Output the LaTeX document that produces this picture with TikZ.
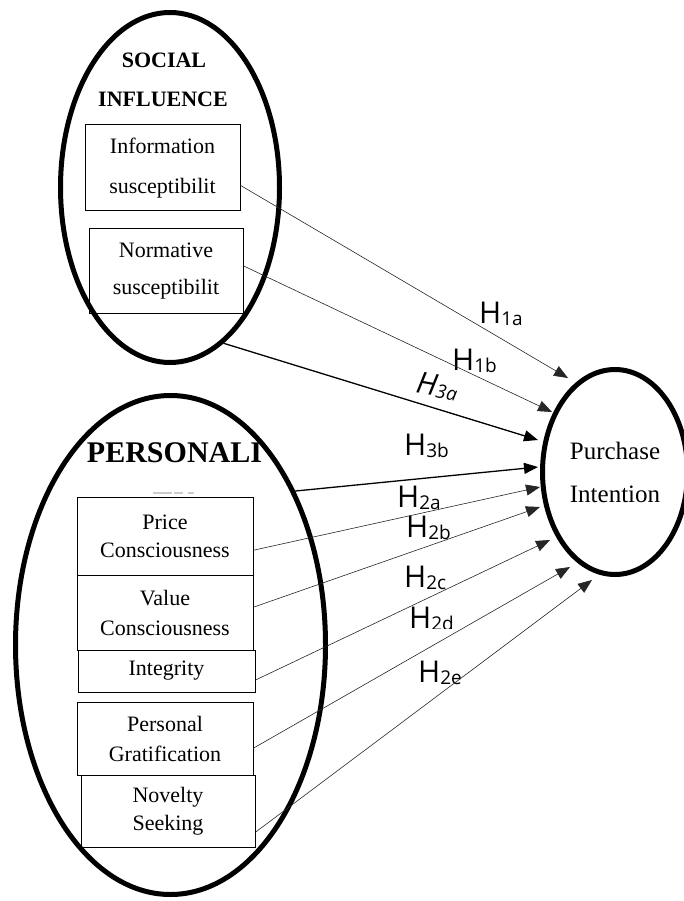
\documentclass[tikz,border=0pt]{standalone}
\usepackage{fontspec}
\setmainfont{Liberation Serif}
\newfontfamily\labfont{Open Sans}
\usetikzlibrary{shapes.geometric,arrows.meta,calc}
\newcommand{\hlab}[1]{H{\fontsize{19}{19}\selectfont\raisebox{-2pt}{#1}}}
\begin{document}
\begin{tikzpicture}[x=1pt,y=-1pt,
  oval/.style={ellipse,draw,line width=5pt,inner sep=0pt},
  fbox/.style={draw,line width=1pt,rectangle,inner sep=0pt,align=center},
  thinc/.style={line width=0.6pt,draw=black!85,-{Triangle[length=14pt,width=11pt]}},
  thickc/.style={line width=1.3pt,-{Triangle[length=14pt,width=11pt]}},
  hl/.style={font=\labfont\fontsize{30}{30}\selectfont,inner sep=0pt,anchor=base west},
  head/.style={font=\bfseries\fontsize{22}{22}\selectfont,inner sep=0pt,anchor=base},
]
\useasboundingbox (0,0) rectangle (683,901);
% ovals
\node[oval,minimum width=219pt,minimum height=350pt] (social) at (170,187.5) {};
\node[oval,minimum width=310pt,minimum height=499pt] (pers) at (170.5,645) {};
\node[oval,minimum width=145pt,minimum height=205pt,align=center,
      font=\fontsize{25}{43}\selectfont] (pi) at (615,472) {Purchase\\Intention};
% headings
\node[head] (socA) at (164,68) {SOCIAL};
\node[head] (socB) at (163,107) {INFLUENCE};
\node[head,font=\bfseries\fontsize{30}{30}\selectfont] (persT) at (174.5,462) {PERSONALI};
\draw[black!20,line width=1.3pt] (153,493) -- (172,493) (174,493) -- (183,493) (188,493) -- (194,493);
% boxes
\node[fbox,minimum width=155pt,minimum height=86pt,font=\fontsize{22}{40}\selectfont] (info) at (162.5,168) {Information\\susceptibilit};
\node[fbox,minimum width=154pt,minimum height=84pt,font=\fontsize{22}{37}\selectfont] (norm) at (166,271) {Normative\\susceptibilit};
\node[fbox,minimum width=176pt,minimum height=78pt,font=\fontsize{22}{28}\selectfont] (price) at (165,536) {Price\\Consciousness};
\node[fbox,minimum width=176pt,minimum height=75pt,font=\fontsize{22}{30}\selectfont] (value) at (165,612.5) {Value\\Consciousness};
\node[fbox,minimum width=177pt,minimum height=42pt,font=\fontsize{22}{22}\selectfont] (integ) at (166.5,671) {Integrity};
\node[fbox,minimum width=176pt,minimum height=73pt,font=\fontsize{22}{30}\selectfont] (grat) at (165,738.5) {Personal\\Gratification};
\node[fbox,minimum width=174pt,minimum height=72pt,font=\fontsize{22}{28}\selectfont] (nov) at (168,811) {Novelty\\Seeking};
% clipped descenders
\fill[white] (135,681) rectangle (205,690.5);
\fill[white] (125,836.5) rectangle (215,846);
% labels
\node[hl] (l1a) at (479,323) {\hlab{1a}};
\node[hl] (l1b) at (452,370) {\hlab{1b}};
\node[hl,font=\labfont\itshape\fontsize{30}{30}\selectfont,rotate=-10] (l3a) at (415,392) {\hlab{3a}};
\node[hl] (l3b) at (404,455) {\hlab{3b}};
\node[hl] (l2a) at (397,507) {\hlab{2a}};
\node[hl] (l2b) at (406,537) {\hlab{2b}};
\node[hl] (l2c) at (404,587) {\hlab{2c}};
\node[hl] (l2d) at (409,628) {\hlab{2d}};
\node[hl] (l2e) at (418,682) {\hlab{2e}};
\fill[white] (428,628.8) rectangle (462,637);
% arrow tips
\coordinate (t1a) at (568,378);
\coordinate (t1b) at (552,412);
\coordinate (t3a) at (538,440);
\coordinate (t3b) at (538,467);
\coordinate (t2a) at (540,487);
\coordinate (t2b) at (540,507);
\coordinate (t2c) at (550,540);
\coordinate (t2d) at (570,567);
\coordinate (t2e) at (592,580);
% connectors
\draw[thinc] ($(info.north east)!0.70!(info.south east)$) -- (t1a);
\draw[thinc] ($(norm.north east)!0.44!(norm.south east)$) -- (t1b);
\draw[thickc] (social.-71.4) -- (t3a);
\draw[thickc] (pers.51.8) -- (t3b);
\draw[thinc] ($(price.north east)!0.68!(price.south east)$) -- (t2a);
\draw[thinc] ($(value.north east)!0.43!(value.south east)$) -- (t2b);
\draw[thinc] ($(integ.north east)!0.71!(integ.south east)$) -- (t2c);
\draw[thinc] ($(grat.north east)!0.63!(grat.south east)$) -- (t2d);
\draw[thinc] ($(nov.north east)!0.79!(nov.south east)$) -- (t2e);
\end{tikzpicture}
\end{document}
